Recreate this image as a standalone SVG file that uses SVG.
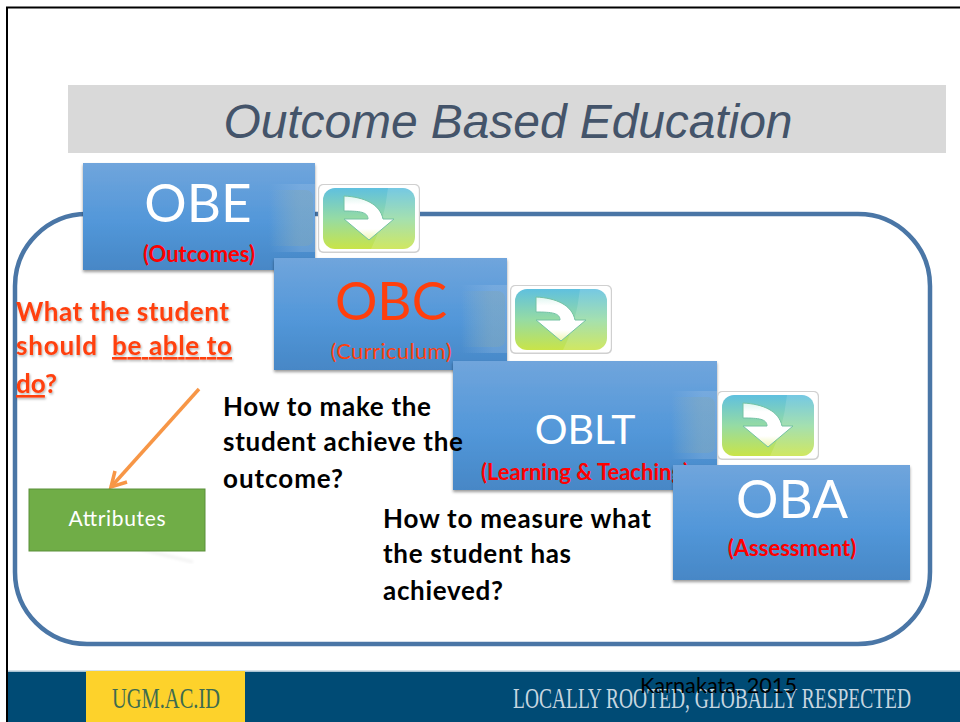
<svg xmlns="http://www.w3.org/2000/svg" width="960" height="722" viewBox="0 0 960 722">
<style>
text{font-family:Lato,"Open Sans",sans-serif}
.box{fill:url(#bl);filter:url(#sh)}
.big{font-size:53px;text-anchor:middle}
.sub{font-size:22px;text-anchor:middle}
.q{font-size:26px;font-weight:700;fill:#000}
.w{font-size:26px;font-weight:700;fill:#ff3f0d;filter:url(#ts)}
</style>
<defs>
<linearGradient id="bl" x1="0" y1="0" x2="0" y2="1"><stop offset="0" stop-color="#70a5dc"/><stop offset=".55" stop-color="#5297d9"/><stop offset="1" stop-color="#4787c6"/></linearGradient>
<linearGradient id="ic" x1="0" y1="0" x2="0" y2="1"><stop offset="0" stop-color="#5fc0df"/><stop offset=".5" stop-color="#95dba4"/><stop offset="1" stop-color="#c9e448"/></linearGradient>
<linearGradient id="ar" x1="0" y1="0" x2="0" y2="1"><stop offset="0" stop-color="#dff6f0"/><stop offset=".2" stop-color="#fff"/><stop offset=".75" stop-color="#fff"/><stop offset="1" stop-color="#eef6b0"/></linearGradient>
<linearGradient id="gl" x1="0" y1="0" x2="1" y2="0"><stop offset="0" stop-color="#7ea5b4" stop-opacity="0"/><stop offset=".6" stop-color="#7ea5b4" stop-opacity=".38"/><stop offset="1" stop-color="#7ea5b4" stop-opacity=".4"/></linearGradient>
<linearGradient id="gl2" x1="0" y1="0" x2="1" y2="0"><stop offset="0" stop-color="#a8c6e6" stop-opacity="0"/><stop offset=".7" stop-color="#a8c6e6" stop-opacity=".28"/></linearGradient>
<filter id="sh" x="-5%" y="-5%" width="110%" height="112%"><feDropShadow dx="0" dy="2" stdDeviation="1.500" flood-color="#000" flood-opacity=".4"/></filter>
<filter id="ts" x="-5%" y="-10%" width="110%" height="125%"><feDropShadow dx="1" dy="1.500" stdDeviation="1" flood-color="#000" flood-opacity=".3"/></filter>
<filter id="bl2"><feGaussianBlur stdDeviation="1.500"/></filter>
<g id="icon">
<rect x="0" y="0" width="102" height="69" rx="5" fill="#d0d0d0"/>
<rect x="1.200" y="1" width="99.600" height="66.500" rx="4.500" fill="#fff"/>
<rect x="5" y="4" width="92" height="61" rx="12" fill="url(#ic)"/>
<path d="M70 4H85Q97 4 97 16V53Q97 65 85 65H53Q66 40 70 4Z" fill="#fff" opacity=".14"/>
<path d="M26 12C46 13 62 20 65 35H76L51 56L26 35H50C50 28 42 27 26 27Z" fill="url(#ar)" stroke="#74c2a4" stroke-width="1"/>
</g>
<g id="glow">
<path d="M-24 0H22V68H-24Z" fill="url(#gl2)"/>
<path d="M-24 6H12Q20 6 20 14V54Q20 62 12 62H-24Z" fill="url(#gl)"/>
</g>
</defs>
<rect width="960" height="722" fill="#fff"/>
<path d="M7 722V7.500H960" fill="none" stroke="#000" stroke-width="2"/>
<rect x="68" y="85" width="878" height="68" fill="#d9d9d9"/>
<text x="508" y="138" font-size="48" font-style="italic" text-anchor="middle" fill="#44546a" textLength="569" style="font-family:'Liberation Sans',Arial,sans-serif">Outcome Based Education</text>
<g id="connectors">
<rect x="15" y="214" width="915" height="430" rx="72" ry="72" fill="none" stroke="#4a76a6" stroke-width="4.500"/>
<path d="M199 389L111 487" fill="none" stroke="#f79646" stroke-width="3.500"/>
<path d="M115 471L111 487L127 482" fill="none" stroke="#f79646" stroke-width="3.500"/>
</g>
<g id="node-obe">
<rect class="box" x="83" y="163" width="232" height="107"/>
<use href="#glow" x="293" y="184"/>
<text class="big" x="198" y="222" fill="#fff">OBE</text>
<text class="sub" x="199" y="262" fill="#f00" font-weight="700">(Outcomes)</text>
</g>
<g id="arrow-1"><use href="#icon" x="318" y="184"/></g>
<g id="node-obc">
<rect class="box" x="274" y="258" width="233" height="112"/>
<use href="#glow" x="485" y="285"/>
<text class="big" x="391" y="320" fill="#ff3f0d">OBC</text>
<text class="sub" x="391" y="359" fill="#ff3f0d" textLength="121">(Curriculum)</text>
</g>
<g id="arrow-2"><use href="#icon" x="510" y="285"/></g>
<g id="node-oblt">
<rect class="box" x="453" y="361" width="264" height="129"/>
<use href="#glow" x="695" y="391"/>
<text x="585" y="444" font-size="41" text-anchor="middle" fill="#fff">OBLT</text>
<text class="sub" x="585" y="480" fill="#f00" font-weight="700">(Learning &amp; Teaching)</text>
</g>
<g id="arrow-3"><use href="#icon" x="717" y="391"/></g>
<g id="node-oba">
<rect class="box" x="673" y="465" width="237" height="115"/>
<text class="big" x="792" y="518" fill="#fff">OBA</text>
<text class="sub" x="792" y="556" fill="#f00" font-weight="700">(Assessment)</text>
</g>
<g id="question-what">
<text class="w" x="16" y="321" textLength="213">What the student</text>
<text class="w" x="16" y="355" textLength="81">should</text>
<text class="w" x="112" y="355" textLength="120" text-decoration="underline">be able to</text>
<text class="w" x="16" y="393"><tspan text-decoration="underline">do</tspan>?</text>
</g>
<g id="question-how">
<text class="q" x="223" y="416" textLength="208">How to make the</text>
<text class="q" x="223" y="451" textLength="240">student achieve the</text>
<text class="q" x="223" y="488" textLength="120">outcome?</text>
</g>
<g id="question-measure">
<text class="q" x="383" y="528" textLength="268">How to measure what</text>
<text class="q" x="383" y="563" textLength="188">the student has</text>
<text class="q" x="383" y="600" textLength="120">achieved?</text>
</g>
<g id="node-attributes">
<path d="M115 543L193 562" stroke="#000" stroke-width="3" opacity=".05" filter="url(#bl2)"/>
<rect x="29" y="489" width="176" height="62" fill="#70ad47" stroke="#5b8f3a"/>
<text x="117" y="526" font-size="21" text-anchor="middle" fill="#fff" textLength="97">Attributes</text>
</g>
<g id="footer">
<rect x="8" y="671" width="952" height="51" fill="#004b75"/>
<rect x="8" y="670.500" width="952" height="1.500" fill="#a9c3d3"/>
<rect x="86" y="671" width="159" height="51" fill="#fdd22b"/>
<text x="112" y="708" font-size="30" fill="#3e6b4f" textLength="108" lengthAdjust="spacingAndGlyphs" style="font-family:'Liberation Serif',serif">UGM.AC.ID</text>
<text x="513" y="708" font-size="30" fill="#c6d6e0" textLength="398" lengthAdjust="spacingAndGlyphs" style="font-family:'Liberation Serif',serif">LOCALLY ROOTED, GLOBALLY RESPECTED</text>
<text x="640" y="693" font-size="21" fill="#000" textLength="157" lengthAdjust="spacingAndGlyphs">Karnakata, 2015</text>
</g>
</svg>
